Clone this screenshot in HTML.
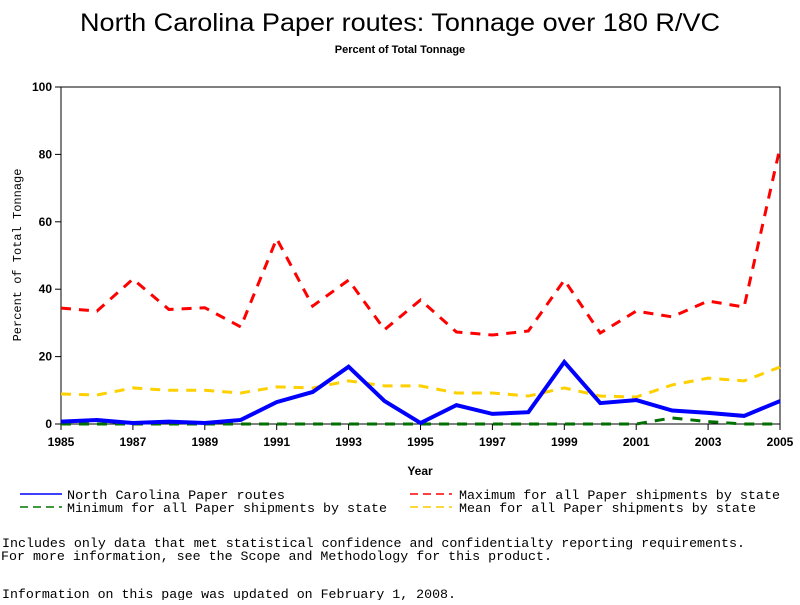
<!DOCTYPE html>
<html><head><meta charset="utf-8"><style>
body{margin:0;background:#fff;width:800px;height:600px;overflow:hidden;font-family:"Liberation Mono",monospace}
svg text{font-family:"Liberation Sans",sans-serif}
.m{font-family:"Liberation Mono",monospace}
</style></head><body>
<svg id="c" width="800" height="600">
<text x="80" y="31" font-size="25" textLength="640" lengthAdjust="spacingAndGlyphs">North Carolina Paper routes: Tonnage over 180 R/VC</text>
<text x="400" y="53" text-anchor="middle" font-size="11" font-weight="bold">Percent of Total Tonnage</text>
<rect x="61" y="87" width="719" height="337" fill="none" stroke="#000"/>
<g id="axes"></g>
<g id="series"></g>
<text x="420" y="475" text-anchor="middle" font-size="12" font-weight="bold">Year</text>
<text transform="translate(21,255) rotate(-90)" text-anchor="middle" font-size="12" class="m">Percent of Total Tonnage</text>
<g class="m" font-size="13">
<line x1="20" y1="494" x2="62" y2="494" stroke="#00f" stroke-width="1.5"/>
<text x="67" y="499" class="m" textLength="218" lengthAdjust="spacingAndGlyphs">North Carolina Paper routes</text>
<line x1="20" y1="507" x2="62" y2="507" stroke="#070" stroke-width="1.5" stroke-dasharray="8,5"/>
<text x="67" y="512" class="m" textLength="320" lengthAdjust="spacingAndGlyphs">Minimum for all Paper shipments by state</text>
<line x1="410" y1="494" x2="452" y2="494" stroke="#f00" stroke-width="1.5" stroke-dasharray="8,5"/>
<text x="459" y="499" class="m" textLength="321" lengthAdjust="spacingAndGlyphs">Maximum for all Paper shipments by state</text>
<line x1="410" y1="507" x2="452" y2="507" stroke="#fc0" stroke-width="1.5" stroke-dasharray="8,5"/>
<text x="459" y="512" class="m" textLength="297" lengthAdjust="spacingAndGlyphs">Mean for all Paper shipments by state</text>
<text x="2" y="547" class="m" textLength="743" lengthAdjust="spacingAndGlyphs">Includes only data that met statistical confidence and confidentialty reporting requirements.</text>
<text x="1" y="560" class="m" textLength="551" lengthAdjust="spacingAndGlyphs">For more information, see the Scope and Methodology for this product.</text>
<text x="2" y="598" class="m" textLength="454" lengthAdjust="spacingAndGlyphs">Information on this page was updated on February 1, 2008.</text>
</g>
</svg>
<script>
const years=[1985,1986,1987,1988,1989,1990,1991,1992,1993,1994,1995,1996,1997,1998,1999,2000,2001,2002,2003,2004,2005];
const ncValues=[0.7,1.2,0.3,0.7,0.3,1.2,6.5,9.5,17,6.8,0.3,5.6,3,3.5,18.4,6.2,7.1,4,3.3,2.4,6.8];
const maxValues=[34.4,33.5,43,34,34.5,28.8,55,35,42.7,28,36.8,27.3,26.4,27.6,42.7,27,33.5,31.8,36.5,34.7,82];
const meanValues=[8.9,8.6,10.7,10,10,9.2,11,10.7,12.8,11.3,11.3,9.2,9.2,8.3,10.7,8.3,8,11.6,13.6,12.8,16.9];
const minValues=[0,0,0,0,0,0,0,0,0,0,0,0,0,0,0,0,0,1.8,0.7,0,0];
const yTicks=[0,20,40,60,80,100];
const xTickYears=[1985,1987,1989,1991,1993,1995,1997,1999,2001,2003,2005];
const NS="http://www.w3.org/2000/svg";
const X=y=>61+(y-1985)*(719/20);
const Y=v=>424-v*3.37;
const axes=document.getElementById('axes'),ser=document.getElementById('series');
function mk(t,a,p){const e=document.createElementNS(NS,t);for(const k in a)e.setAttribute(k,a[k]);p.appendChild(e);return e;}
yTicks.forEach(v=>{
 const l=mk('line',{x1:55,x2:61,y1:Y(v),y2:Y(v),stroke:'#000'},axes);
 
 
 const t=mk('text',{x:52,y:Y(v)+4,'text-anchor':'end','font-size':12,'font-weight':'bold'},axes);t.textContent=v;
 
 
});
xTickYears.forEach(v=>{
 const l=mk('line',{x1:X(v),x2:X(v),y1:424,y2:430,stroke:'#000'},axes);
 
 
 const t=mk('text',{x:X(v),y:446,'text-anchor':'middle','font-size':12,'font-weight':'bold'},axes);t.textContent=v;
 
 
});
function line(vals,color,dash,w,name){
 const p=mk('polyline',{points:vals.map((v,i)=>X(years[i])+','+Y(v)).join(' '),fill:'none',stroke:color,'stroke-width':w,'stroke-dasharray':dash},ser);
 
 
}
line(minValues,'#007000','10,8',3,'min-line');
line(meanValues,'#ffd000','10,8',3,'mean-line');
line(maxValues,'#ff0000','10,8',3,'max-line');
line(ncValues,'#0000ff','none',4,'nc-line');
</script>
</body></html>
